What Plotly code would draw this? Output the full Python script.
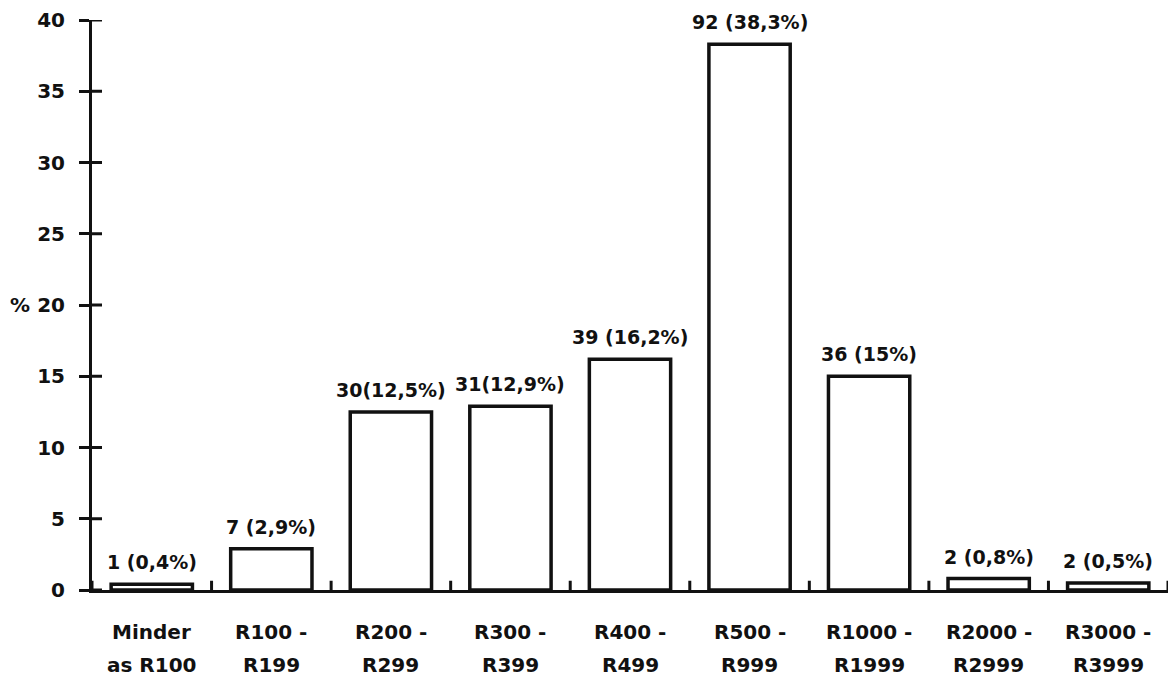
import plotly.graph_objects as go

# Income brackets (two-line category labels)
cat_line1 = ["Minder", "R100 -", "R200 -", "R300 -", "R400 -", "R500 -", "R1000 -", "R2000 -", "R3000 -"]
cat_line2 = ["as R100", "R199", "R299", "R399", "R499", "R999", "R1999", "R2999", "R3999"]
# Share of respondents (%) and their count labels
percent = [0.4, 2.9, 12.5, 12.9, 16.2, 38.3, 15, 0.8, 0.5]
bar_labels = ["1 (0,4%)", "7 (2,9%)", "30(12,5%)", "31(12,9%)", "39 (16,2%)",
              "92 (38,3%)", "36 (15%)", "2 (0,8%)", "2 (0,5%)"]
y_ticks = [0, 5, 10, 15, 20, 25, 30, 35, 40]

FONT = "DejaVu Sans"
INK = "#111111"
n = len(percent)
x_idx = list(range(n))

fig = go.Figure()
fig.add_trace(go.Bar(
    x=x_idx, y=percent, width=0.68,
    marker=dict(color="white", line=dict(color="#111111", width=3.5)),
    hoverinfo="skip",
))

annotations = []
# value labels above the bars
for i, (v, t) in enumerate(zip(percent, bar_labels)):
    annotations.append(dict(
        x=i, y=v, xref="x", yref="y", text=f"<b>{t}</b>", showarrow=False,
        yanchor="bottom", yshift=9, font=dict(family=FONT, size=19, color=INK)))
# category labels (two lines, wide spacing)
for i, (a, b) in enumerate(zip(cat_line1, cat_line2)):
    annotations.append(dict(
        x=i, y=0, xref="x", yref="paper", text=f"<b>{a}</b>", showarrow=False,
        yanchor="middle", yshift=-42, font=dict(family=FONT, size=20, color=INK)))
    annotations.append(dict(
        x=i, y=0, xref="x", yref="paper", text=f"<b>{b}</b>", showarrow=False,
        yanchor="middle", yshift=-75, font=dict(family=FONT, size=20, color=INK)))
# y-axis unit
annotations.append(dict(
    x=-0.5, y=20, xref="x", yref="y", text="<b>%</b>", showarrow=False,
    xanchor="right", xshift=-60, font=dict(family=FONT, size=20, color=INK)))

shapes = []
# x-axis tick marks crossing the axis at the category boundaries
for k in range(n + 1):
    xb = k - 0.5
    shapes.append(dict(type="line", xref="x", yref="y", x0=xb, x1=xb, y0=-0.65, y1=0.65,
                       line=dict(color="#111111", width=3)))
# inner half of the y-axis ticks
for t in y_ticks:
    shapes.append(dict(type="line", xref="x", yref="y", x0=-0.5, x1=-0.5 + 10 / 119.6,
                       y0=t, y1=t, line=dict(color="#111111", width=3)))

fig.update_layout(
    width=1172, height=682,
    margin=dict(l=92, r=4, t=20, b=92),
    paper_bgcolor="white", plot_bgcolor="white",
    showlegend=False,
    annotations=annotations,
    shapes=shapes,
    xaxis=dict(range=[-0.5, n - 0.5], showticklabels=False, ticks="",
               showline=True, linecolor="#111111", linewidth=3,
               showgrid=False, zeroline=False, fixedrange=True),
    yaxis=dict(range=[0, 40], tickvals=y_ticks, ticks="outside", ticklen=10,
               tickwidth=3, tickcolor="#111111", ticklabelstandoff=10,
               tickfont=dict(family=FONT, size=20, color=INK, weight="bold"),
               showline=True, linecolor="#111111", linewidth=3,
               showgrid=False, zeroline=False, fixedrange=True),
)

fig.write_html("out.html")
